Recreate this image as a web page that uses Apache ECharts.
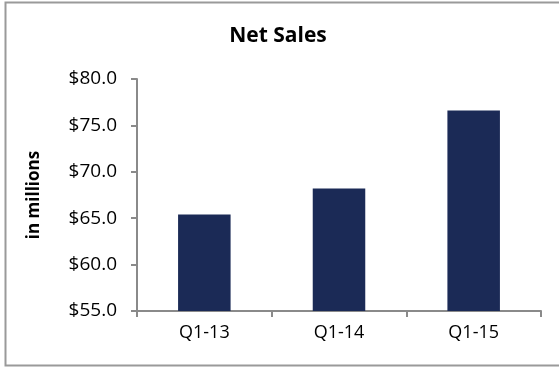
<!DOCTYPE html>
<html>
<head>
<meta charset="utf-8">
<script src="https://cdn.jsdelivr.net/npm/echarts@6/dist/echarts.min.js"></script>
<style>
  html, body { margin: 0; padding: 0; background: #fff; }
  #chart { width: 559px; height: 367px; }
</style>
</head>
<body>
<div id="chart"></div>
<script>
// Quarterly net sales, in millions of dollars
const categories = ['Q1-13', 'Q1-14', 'Q1-15'];
const netSales = [65.4, 68.2, 76.6];
const yTicks = { min: 55, max: 80, step: 5 };

const FONT = '"Open Sans", "Liberation Sans", sans-serif';
const AXIS_GRAY = '#8a8a8a';

const chart = echarts.init(document.getElementById('chart'), null, { renderer: 'canvas' });

chart.setOption({
  backgroundColor: '#ffffff',
  animation: false,
  title: {
    text: 'Net Sales',
    left: 273,
    textAlign: 'center',
    top: 21,
    textStyle: { fontFamily: FONT, fontWeight: 'bold', fontSize: 21, color: '#000' }
  },
  graphic: [{
    type: 'rect',
    shape: { x: 5.5, y: 2.5, width: 560, height: 363 },
    style: { fill: 'none', stroke: '#9a9a9a', lineWidth: 2 },
    silent: true
  }],
  grid: { left: 137, right: 18, top: 79, bottom: 56 },
  xAxis: {
    type: 'category',
    data: categories,
    axisLine: { lineStyle: { color: AXIS_GRAY, width: 2 } },
    axisTick: { show: true, alignWithLabel: false, length: 6, lineStyle: { color: AXIS_GRAY, width: 2 } },
    axisLabel: { fontFamily: FONT, fontSize: 18, color: '#000', margin: 13 }
  },
  yAxis: {
    type: 'value',
    min: yTicks.min,
    max: yTicks.max,
    interval: yTicks.step,
    name: 'in millions',
    nameLocation: 'middle',
    nameRotate: 90,
    nameGap: 94,
    nameTextStyle: { fontFamily: FONT, fontWeight: 'bold', fontSize: 17, color: '#000' },
    axisLine: { show: true, lineStyle: { color: AXIS_GRAY, width: 2 } },
    axisTick: { show: true, length: 6, lineStyle: { color: AXIS_GRAY, width: 2 } },
    splitLine: { show: false },
    axisLabel: {
      fontFamily: FONT, fontSize: 19, color: '#000', margin: 20,
      formatter: v => '$' + v.toFixed(1)
    }
  },
  series: [{
    type: 'bar',
    data: netSales,
    barWidth: '39%',
    itemStyle: { color: '#1b2a56' }
  }]
});
</script>
</body>
</html>
